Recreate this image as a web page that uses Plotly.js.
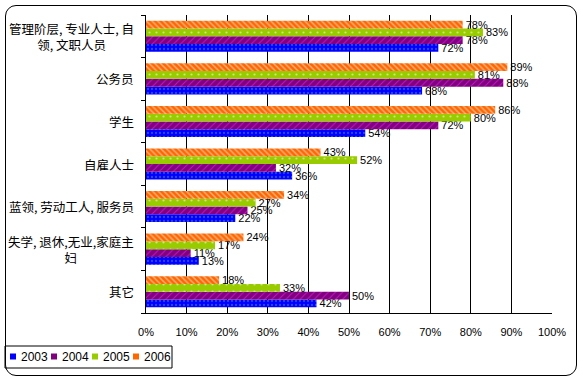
<!DOCTYPE html>
<html><head><meta charset="utf-8">
<script src="https://cdn.plot.ly/plotly-3.0.1.min.js"></script>
<style>
html,body{margin:0;padding:0;background:#fff;}
#wrap{position:relative;width:583px;height:382px;}
#chart{position:absolute;left:0;top:0;width:583px;height:382px;}
#frame{position:absolute;left:5px;top:5px;width:570px;height:369px;border:1px solid #000;border-radius:11px;pointer-events:none;}
</style></head>
<body><div id="wrap"><div id="chart"></div><div id="frame"></div></div>
<script>
// Categories listed bottom-to-top
const categories = ["其它", "失学, 退休,无业,家庭主<br>妇", "蓝领, 劳动工人, 服务员", "自雇人士", "学生", "公务员", "管理阶层, 专业人士, 自<br>领, 文职人员"];
const seriesNames = ["2003", "2004", "2005", "2006"];
const v2003 = [42, 13, 22, 36, 54, 68, 72];
const v2004 = [50, 11, 25, 32, 72, 88, 78];
const v2005 = [33, 17, 27, 52, 80, 81, 83];
const v2006 = [18, 24, 34, 43, 86, 89, 78];
const xTickVals = [0,10,20,30,40,50,60,70,80,90,100];
const xTickText = ["0%","10%","20%","30%","40%","50%","60%","70%","80%","90%","100%"];

const colors = ["#0000FF", "#800080", "#99CC00", "#FF6600"];
const patterns = [
  {shape: ".", fgcolor: "#5A8CFF", size: 4, solidity: 0.25},
  {shape: "/", fgcolor: "#FF33FF", size: 5, solidity: 0.2},
  {shape: ".", fgcolor: "#FFFFFF", size: 7, solidity: 0.08},
  {shape: "\\", fgcolor: "#FFFFFF", size: 4, solidity: 0.35}
];
const allVals = [v2003, v2004, v2005, v2006];
const numFont = "Liberation Sans, Arial, sans-serif";
const cjkFont = "Noto Sans CJK SC, sans-serif";

// plot-area geometry (pixels) for placing the custom legend
const W = 583, H = 382, M = {l: 146, r: 31, t: 15, b: 69};
const pw = W - M.l - M.r, ph = H - M.t - M.b;
const px = p => (p - M.l) / pw;
const py = p => (H - M.b - p) / ph;

const traces = allVals.map((vals, i) => ({
  type: "bar", orientation: "h",
  name: seriesNames[i],
  y: categories, x: vals,
  text: vals.map(v => v + "%"),
  textposition: "outside",
  constraintext: "none",
  cliponaxis: false,
  textfont: {family: numFont, size: 11, color: "#000"},
  marker: {color: colors[i], pattern: Object.assign({bgcolor: colors[i], fillmode: "overlay"}, patterns[i]), line: {width: 0}},
  hoverinfo: "none", showlegend: false
}));

const annotations = categories.map(c => ({
  xref: "paper", yref: "y", x: 0, y: c,
  xanchor: "right", yanchor: "middle", xshift: -10,
  text: c, showarrow: false, align: "center",
  font: {family: cjkFont, size: 12.5, color: "#000"}
}));

// custom compact legend
const shapes = [{type: "rect", xref: "paper", yref: "paper",
  x0: px(5), x1: px(172), y0: py(346), y1: py(368),
  line: {color: "#000", width: 1}, fillcolor: "#fff", layer: "above"}];
seriesNames.forEach((n, i) => {
  const x0 = 10 + 41 * i;
  shapes.push({type: "rect", xref: "paper", yref: "paper",
    x0: px(x0), x1: px(x0 + 6), y0: py(353.5), y1: py(359.5),
    line: {width: 0}, fillcolor: colors[i], layer: "above"});
  annotations.push({xref: "paper", yref: "paper", x: px(x0 + 9), y: py(357),
    xanchor: "left", yanchor: "middle", text: n, showarrow: false,
    font: {family: numFont, size: 12, color: "#000"}});
});

const layout = {
  width: W, height: H,
  margin: M,
  paper_bgcolor: "#fff", plot_bgcolor: "#fff",
  barmode: "group", bargap: 0.27, bargroupgap: 0,
  showlegend: false,
  xaxis: {range: [0, 100], tickvals: xTickVals, ticktext: xTickText,
    showgrid: true, gridcolor: "#000", gridwidth: 1, zeroline: false,
    showline: true, linecolor: "#000", linewidth: 1, ticks: "",
    ticklabelstandoff: 9,
    tickfont: {family: numFont, size: 11, color: "#000"}, fixedrange: true},
  yaxis: {type: "category", showticklabels: false, showgrid: false, zeroline: false,
    showline: true, linecolor: "#000", linewidth: 1,
    ticks: "outside", ticklen: 4, tickcolor: "#000", tickson: "boundaries", fixedrange: true},
  shapes: shapes,
  annotations: annotations
};
Plotly.newPlot("chart", traces, layout, {staticPlot: true, displayModeBar: false});
</script></body></html>
